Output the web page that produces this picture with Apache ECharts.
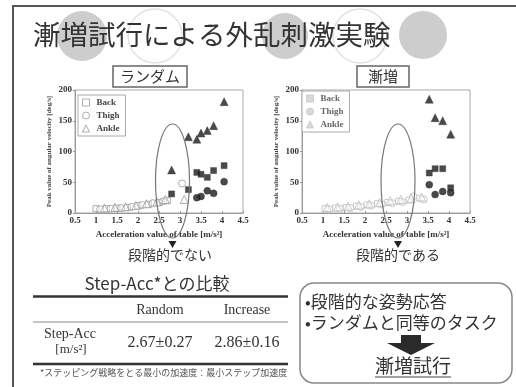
<!DOCTYPE html>
<html>
<head>
<meta charset="utf-8">
<script src="https://cdn.jsdelivr.net/npm/echarts@6/dist/echarts.min.js"></script>
<style>
  html, body { margin: 0; padding: 0; background: #fff; }
  #c { width: 516px; height: 387px; }
</style>
</head>
<body>
<div id="c"></div>
<script>
// ---- axis ticks ----
const xTickMin = 0.5, xTickMax = 4.5, xTickStep = 0.5;
const yTickMin = 0, yTickMax = 200, yTickStep = 50;

// ---- random trial: points below the stepping threshold (open) ----
const randomLowBack  = [[1.0, 7], [1.25, 7], [1.5, 8], [1.75, 9], [2.0, 12], [2.25, 14], [2.5, 17], [2.7, 20]];
const randomLowThigh = [[1.1, 6], [1.35, 7], [1.6, 8], [1.85, 10], [2.1, 13], [2.35, 16], [2.6, 19], [3.05, 48]];
const randomLowAnkle = [[1.2, 8], [1.45, 9], [1.7, 10], [1.95, 12], [2.2, 15], [2.45, 18], [2.65, 22], [3.1, 22]];
// ---- random trial: stepping responses (filled) ----
const randomBack  = [[2.8, 31], [3.2, 38], [3.4, 66], [3.5, 63], [3.65, 58], [3.8, 69], [4.05, 77]];
const randomThigh = [[3.4, 25], [3.5, 27], [3.65, 36], [3.8, 32], [4.05, 51]];
const randomAnkle = [[2.8, 70], [3.2, 124], [3.4, 120], [3.5, 130], [3.65, 134], [3.8, 142], [4.05, 181]];

// ---- increasing trial: below threshold (open) ----
const increaseLowBack  = [[1.05, 7], [1.3, 8], [1.55, 9], [1.8, 11], [2.05, 13], [2.3, 15], [2.55, 17], [2.8, 19], [3.05, 21], [3.3, 24]];
const increaseLowThigh = [[1.15, 6], [1.4, 7], [1.65, 8], [1.9, 10], [2.15, 12], [2.4, 14], [2.65, 16], [2.9, 18], [3.15, 27], [3.4, 22]];
const increaseLowAnkle = [[1.1, 9], [1.35, 10], [1.6, 11], [1.85, 13], [2.1, 15], [2.35, 17], [2.6, 20], [2.85, 22], [3.1, 24], [3.35, 26]];
// ---- increasing trial: stepping responses (filled) ----
const increaseBack  = [[3.53, 65], [3.67, 72], [3.85, 72], [4.04, 41]];
const increaseThigh = [[3.53, 46], [3.67, 30], [3.85, 35], [4.04, 33]];
const increaseAnkle = [[3.53, 185], [3.67, 155], [3.85, 150], [4.04, 128]];

// ---- comparison table ----
const tableCols = ['Random', 'Increase'];
const stepAccMean = [2.67, 2.86];
const stepAccSd = [0.27, 0.16];

const legendNames = ['Back', 'Thigh', 'Ankle'];
const legendIcons = ['rect', 'circle', 'triangle'];

const SERIF = '"Liberation Serif", "DejaVu Serif", serif';
const JP = '"Noto Sans CJK JP", "Noto Sans", sans-serif';

const chart = echarts.init(document.getElementById('c'), null, { renderer: 'canvas' });

function pts(name, data, symbol, idx, filled, faint) {
  const size = symbol === 'triangle' ? 8 : (symbol === 'circle' ? 7 : 6);
  return {
    type: 'scatter', name, data, symbol, symbolSize: size,
    xAxisIndex: idx, yAxisIndex: idx,
    itemStyle: filled
      ? { color: '#1c1c1c', borderColor: '#333', borderWidth: 0.5 }
      : { color: 'rgba(255,255,255,0.6)', borderColor: faint ? '#bdbdbd' : '#9a9a9a', borderWidth: 1 },
    emphasis: { disabled: true },
    z: filled ? 4 : 3
  };
}

function xAx(idx) {
  return {
    type: 'value', gridIndex: idx, min: xTickMin, max: xTickMax, interval: xTickStep,
    name: 'Acceleration value of table [m/s²]', nameLocation: 'middle', nameGap: 17,
    nameTextStyle: { fontFamily: SERIF, fontWeight: 'bold', fontSize: 9, color: '#333' },
    axisLine: { show: true, lineStyle: { color: '#999', width: 1 } },
    axisTick: { show: true, inside: true, length: 2, lineStyle: { color: '#999' } },
    axisLabel: { fontFamily: SERIF, fontWeight: 'bold', fontSize: 9, color: '#333', margin: 3, formatter: v => String(v) },
    splitLine: { show: false }
  };
}
function yAx(idx) {
  return {
    type: 'value', gridIndex: idx, min: yTickMin, max: yTickMax, interval: yTickStep,
    name: 'Peak value of angular velocity [deg/s]', nameLocation: 'middle', nameGap: 22, nameRotate: 90,
    nameTextStyle: { fontFamily: SERIF, fontWeight: 'bold', fontSize: 7, color: '#444' },
    axisLine: { show: true, lineStyle: { color: '#999', width: 1 } },
    axisTick: { show: true, inside: false, length: 2, lineStyle: { color: '#999' } },
    axisLabel: { fontFamily: SERIF, fontWeight: 'bold', fontSize: 9, color: '#333', margin: 3 },
    splitLine: { show: false }
  };
}
function legend(left, top, faint) {
  return {
    orient: 'vertical', left, top, padding: [3, 6, 3, 4], itemGap: 4,
    itemWidth: 7, itemHeight: 7, selectedMode: false,
    borderColor: '#aaa', borderWidth: 1, backgroundColor: '#fff',
    textStyle: { fontFamily: SERIF, fontWeight: 'bold', fontSize: 9, color: faint ? '#666' : '#444', padding: [0, 0, 0, 2] },
    data: legendNames.map((n, i) => ({
      name: n, icon: legendIcons[i],
      itemStyle: faint
        ? { color: '#d0d0d0', borderColor: '#c4c4c4', borderWidth: 1 }
        : { color: '#fff', borderColor: '#999', borderWidth: 1 }
    }))
  };
}

// annotation shapes and slide text
const g = [];
// slide frame
g.push({ type: 'line', shape: { x1: 12, y1: 6, x2: 516, y2: 6 }, style: { stroke: '#555', lineWidth: 2 }, z: 1 });
g.push({ type: 'line', shape: { x1: 13, y1: 6, x2: 13, y2: 387 }, style: { stroke: '#555', lineWidth: 2 }, z: 1 });
// decorative circles behind the heading
[[82, 36, 25, true], [155, 36, 27, false], [285, 36, 23, true], [360, 36, 27, false], [423, 35, 24, true]].forEach(c => {
  g.push({ type: 'circle', shape: { cx: c[0], cy: c[1], r: c[2] },
    style: c[3] ? { fill: '#cdcdcd' } : { fill: 'none', stroke: '#e2e2e2', lineWidth: 1.5 }, z: 1 });
});
g.push({ type: 'text', left: 33, top: 21, z: 5,
  style: { text: '漸増試行による外乱刺激実験', font: '27.5px ' + JP, fill: '#333' } });
// chart captions in boxes
g.push({ type: 'rect', shape: { x: 113, y: 66, width: 74, height: 21 }, style: { fill: '#fff', stroke: '#666', lineWidth: 1.5 }, z: 5 });
g.push({ type: 'text', x: 150, y: 76.5, z: 6, style: { text: 'ランダム', font: '15px ' + JP, fill: '#333', align: 'center', verticalAlign: 'middle' } });
g.push({ type: 'rect', shape: { x: 357, y: 66, width: 52, height: 21 }, style: { fill: '#fff', stroke: '#666', lineWidth: 1.5 }, z: 5 });
g.push({ type: 'text', x: 383, y: 76.5, z: 6, style: { text: '漸増', font: '15px ' + JP, fill: '#333', align: 'center', verticalAlign: 'middle' } });

// ellipses around the threshold region and arrows below
[172.5, 398].forEach(cx => {
  g.push({ type: 'ellipse', shape: { cx, cy: 181, rx: 17, ry: 57 }, style: { fill: 'none', stroke: '#777', lineWidth: 1.2 }, z: 10 });
  g.push({ type: 'polygon', shape: { points: [[cx - 4, 241], [cx + 4, 241], [cx, 248]] }, style: { fill: '#222' }, z: 10 });
});
g.push({ type: 'text', x: 170, y: 255, z: 6, style: { text: '段階的でない', font: '14px ' + JP, fill: '#333', align: 'center', verticalAlign: 'middle' } });
g.push({ type: 'text', x: 398, y: 255, z: 6, style: { text: '段階的である', font: '14px ' + JP, fill: '#333', align: 'center', verticalAlign: 'middle' } });

// comparison table
g.push({ type: 'text', x: 157, y: 284, z: 6, style: { text: 'Step-Acc*との比較', font: '17px ' + JP, fill: '#333', align: 'center', verticalAlign: 'middle' } });
g.push({ type: 'line', shape: { x1: 33, y1: 296.5, x2: 288, y2: 296.5 }, style: { stroke: '#333', lineWidth: 2.5 }, z: 6 });
const colX = [160, 247];
tableCols.forEach((t, i) => {
  g.push({ type: 'text', x: colX[i], y: 310, z: 6, style: { text: t, font: '14px ' + SERIF, fill: '#333', align: 'center', verticalAlign: 'middle' } });
  g.push({ type: 'text', x: colX[i], y: 343, z: 6, style: { text: stepAccMean[i].toFixed(2) + '±' + stepAccSd[i].toFixed(2), font: '16px ' + SERIF, fill: '#333', align: 'center', verticalAlign: 'middle' } });
});
g.push({ type: 'line', shape: { x1: 33, y1: 322, x2: 288, y2: 322 }, style: { stroke: '#888', lineWidth: 1 }, z: 6 });
g.push({ type: 'text', x: 70, y: 334, z: 6, style: { text: 'Step-Acc', font: '14px ' + SERIF, fill: '#333', align: 'center', verticalAlign: 'middle' } });
g.push({ type: 'text', x: 71, y: 350, z: 6, style: { text: '[m/s²]', font: '13px ' + SERIF, fill: '#333', align: 'center', verticalAlign: 'middle' } });
g.push({ type: 'line', shape: { x1: 33, y1: 364, x2: 288, y2: 364 }, style: { stroke: '#333', lineWidth: 2.5 }, z: 6 });
g.push({ type: 'text', x: 40, y: 373, z: 6, style: { text: '*ステッピング戦略をとる最小の加速度：最小ステップ加速度', font: '9px ' + JP, fill: '#555', verticalAlign: 'middle' } });

// summary box
g.push({ type: 'rect', shape: { x: 300, y: 283, width: 212, height: 100, r: 14 }, style: { fill: '#fff', stroke: '#888', lineWidth: 1.5 }, z: 5 });
g.push({ type: 'text', x: 305, y: 302, z: 6, style: { text: '•段階的な姿勢応答', font: '17px ' + JP, fill: '#333', verticalAlign: 'middle' } });
g.push({ type: 'text', x: 305, y: 323, z: 6, style: { text: '•ランダムと同等のタスク', font: '17px ' + JP, fill: '#333', verticalAlign: 'middle' } });
g.push({ type: 'polygon', shape: { points: [[401, 335], [421, 335], [421, 343], [435, 343], [411, 355], [387, 343], [401, 343]] }, style: { fill: '#2a2a2a' }, z: 6 });
g.push({ type: 'text', x: 413, y: 366, z: 6, style: { text: '漸増試行', font: '19px ' + JP, fill: '#333', align: 'center', verticalAlign: 'middle' } });
g.push({ type: 'line', shape: { x1: 375, y1: 377, x2: 451, y2: 377 }, style: { stroke: '#444', lineWidth: 1 }, z: 6 });

chart.setOption({
  animation: false,
  backgroundColor: '#fff',
  grid: [
    { left: 75, top: 90, width: 168, height: 123, show: true, borderColor: '#aaa', borderWidth: 1, backgroundColor: '#fff' },
    { left: 302, top: 90, width: 168, height: 123, show: true, borderColor: '#aaa', borderWidth: 1, backgroundColor: '#fff' }
  ],
  xAxis: [xAx(0), xAx(1)],
  yAxis: [yAx(0), yAx(1)],
  legend: [legend(78, 95, false), legend(302, 91, true)],
  series: [
    pts('Back', randomLowBack, 'rect', 0, false, false),
    pts('Thigh', randomLowThigh, 'circle', 0, false, false),
    pts('Ankle', randomLowAnkle, 'triangle', 0, false, false),
    pts('Back', randomBack, 'rect', 0, true),
    pts('Thigh', randomThigh, 'circle', 0, true),
    pts('Ankle', randomAnkle, 'triangle', 0, true),
    pts('Back', increaseLowBack, 'rect', 1, false, true),
    pts('Thigh', increaseLowThigh, 'circle', 1, false, true),
    pts('Ankle', increaseLowAnkle, 'triangle', 1, false, true),
    pts('Back', increaseBack, 'rect', 1, true),
    pts('Thigh', increaseThigh, 'circle', 1, true),
    pts('Ankle', increaseAnkle, 'triangle', 1, true)
  ],
  graphic: { elements: g }
});
</script>
</body>
</html>
